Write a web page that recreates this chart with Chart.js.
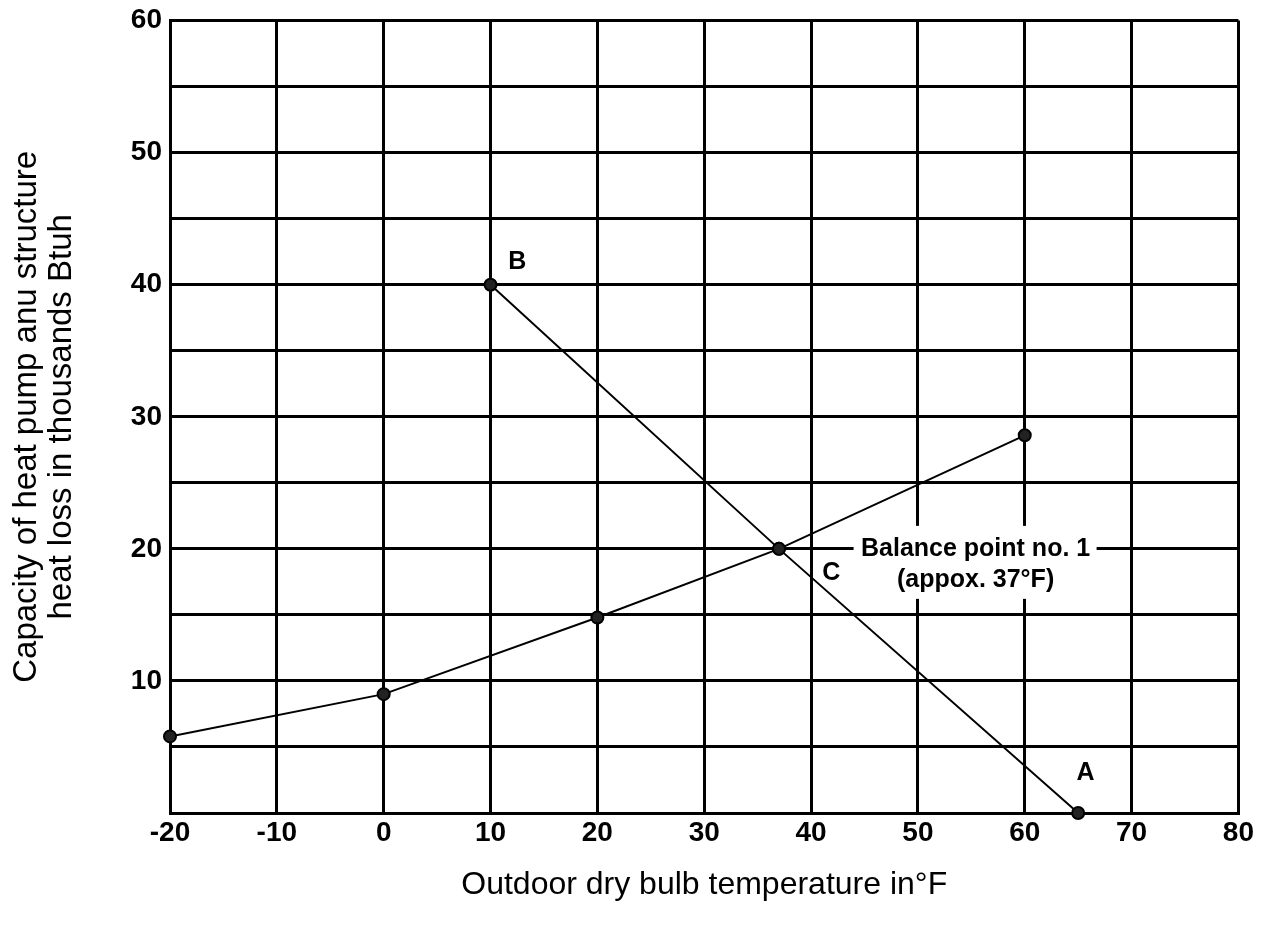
<!DOCTYPE html>
<html>
<head>
<meta charset="utf-8">
<script src="https://cdn.jsdelivr.net/npm/chart.js@4/dist/chart.umd.min.js"></script>
<style>
html, body { margin: 0; padding: 0; background: #fff; }
</style>
</head>
<body>
<canvas id="myChart" width="1262" height="932"></canvas>
<script>
// heat pump capacity curve
const pumpTemps = [-20, 0, 20, 37, 60];
const pumpCapacity = [5.8, 9, 14.8, 20, 28.6];
// structure heat loss line B - C - A
const lossTemps = [10, 37, 65];
const heatLoss = [40, 20, 0];
// point letters
const letterText = ['B', 'C', 'A'];
const letterX = [12.5, 41.9, 65.7];
const letterY = [41.7, 18.2, 3.0];
// balance point note
const noteLines = ['Balance point no. 1', '(appox. 37°F)'];
const noteX = 55.4;
const noteY = [20, 17.6];

const toPoints = (xs, ys) => xs.map((x, i) => ({x: x, y: ys[i]}));

const notesPlugin = {
    id: 'notes',
    beforeDatasetsDraw(chart) {
        const ctx = chart.ctx;
        const xs = chart.scales.x, ys = chart.scales.y;
        // white patch behind the balance point note
        const cx = xs.getPixelForValue(noteX);
        ctx.save();
        ctx.fillStyle = '#fff';
        ctx.fillRect(cx - 122, ys.getPixelForValue(20) - 23, 243, 73);
        ctx.restore();
    },
    afterDatasetsDraw(chart) {
        const ctx = chart.ctx;
        const xs = chart.scales.x, ys = chart.scales.y;
        ctx.save();
        ctx.fillStyle = '#000';
        ctx.textAlign = 'center';
        ctx.textBaseline = 'middle';
        ctx.font = 'bold 25px "Liberation Sans", Arial, sans-serif';
        letterText.forEach((t, i) => {
            ctx.fillText(t, xs.getPixelForValue(letterX[i]), ys.getPixelForValue(letterY[i]));
        });
        noteLines.forEach((t, i) => {
            ctx.fillText(t, xs.getPixelForValue(noteX), ys.getPixelForValue(noteY[i]));
        });
        ctx.restore();
    }
};

const ctx = document.getElementById('myChart').getContext('2d');

const balanceChart = new Chart(ctx, {
    type: 'scatter',
    data: {
        datasets: [{
            label: 'Heat pump capacity',
            data: toPoints(pumpTemps, pumpCapacity),
            showLine: true,
            borderColor: '#000',
            backgroundColor: '#000',
            borderWidth: 2,
            pointRadius: 6,
            pointBorderColor: '#000',
            pointBackgroundColor: '#222',
            clip: false
        },
        {
            label: 'Structure heat loss',
            data: toPoints(lossTemps, heatLoss),
            showLine: true,
            borderColor: '#000',
            backgroundColor: '#000',
            borderWidth: 2,
            pointRadius: 6,
            pointBorderColor: '#000',
            pointBackgroundColor: '#222',
            clip: false
        }]
    },
    options: {
        responsive: false,
        animation: false,
        layout: {
            padding: {top: 9, right: 20, left: 0, bottom: 0}
        },
        scales: {
            x: {
                type: 'linear',
                min: -20,
                max: 80,
                afterFit: (scale) => { scale.height = 119; },
                ticks: {
                    stepSize: 10,
                    color: '#000',
                    padding: 8,
                    font: {family: '"Liberation Sans", Arial, sans-serif', size: 28, weight: 'bold', lineHeight: 0.9}
                },
                grid: {color: '#000', lineWidth: 3, drawTicks: false},
                border: {color: '#000', width: 3},
                title: {
                    display: true,
                    text: 'Outdoor dry bulb temperature in°F',
                    color: '#000',
                    font: {family: '"Liberation Sans", Arial, sans-serif', size: 32},
                    padding: {top: 0, bottom: 28}
                }
            },
            y: {
                min: 0,
                max: 60,
                afterFit: (scale) => { scale.width = 170; },
                ticks: {
                    stepSize: 5,
                    color: '#000',
                    padding: 8,
                    font: {family: '"Liberation Sans", Arial, sans-serif', size: 28, weight: 'bold', lineHeight: 0.9},
                    callback: (v) => (v % 10 === 0 && v !== 0) ? v : ''
                },
                grid: {color: '#000', lineWidth: 3, drawTicks: false},
                border: {color: '#000', width: 3},
                title: {
                    display: true,
                    text: ['Capacity of heat pump anu structure', 'heat loss in thousands Btuh'],
                    color: '#000',
                    font: {family: '"Liberation Sans", Arial, sans-serif', size: 33, lineHeight: 1.07},
                    padding: {top: 9, bottom: 0}
                }
            }
        },
        plugins: {
            legend: {display: false},
            tooltip: {enabled: false}
        }
    },
    plugins: [notesPlugin]
});
</script>
</body>
</html>
